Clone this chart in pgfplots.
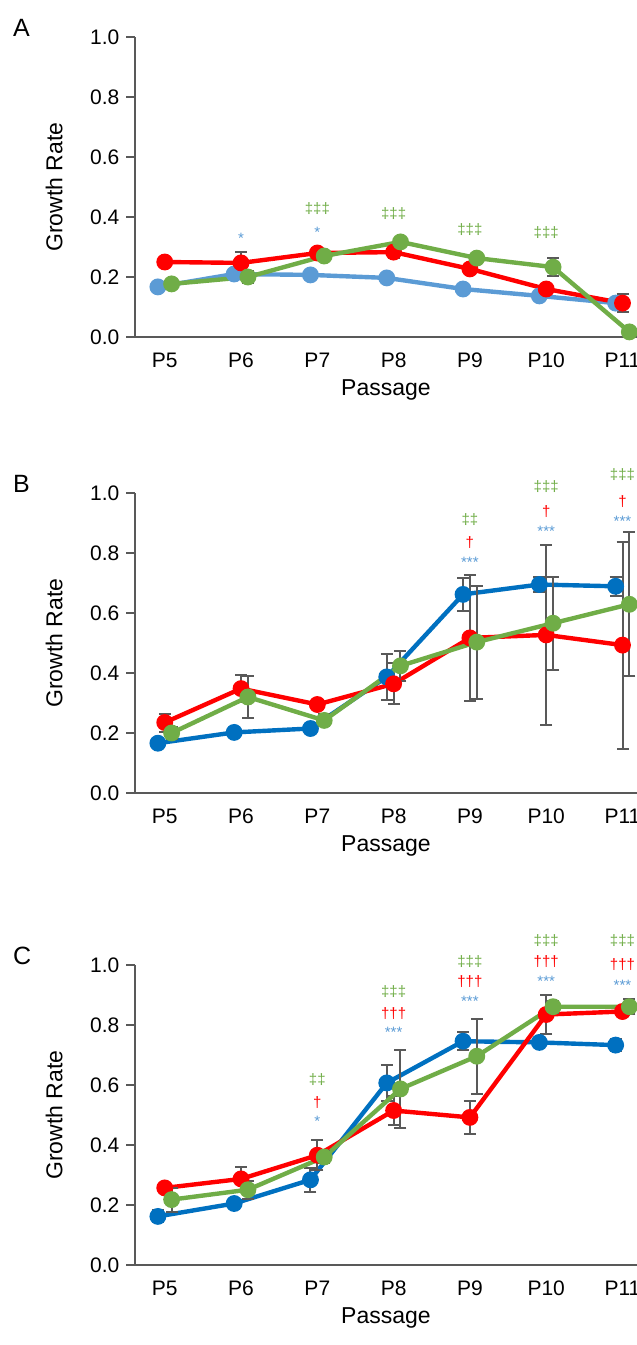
\documentclass[border=0pt]{standalone}
\usepackage{pgfplots}
\pgfplotsset{compat=1.18}
\usepackage{fontspec}
\setmainfont{Liberation Sans}
\definecolor{lb}{RGB}{91,155,213}
\definecolor{db}{RGB}{0,112,192}
\definecolor{rr}{RGB}{255,0,0}
\definecolor{gg}{RGB}{112,173,71}
\definecolor{eb}{RGB}{89,89,89}
\tikzset{ann/.style={font=\fontsize{7.5pt}{8pt}\selectfont, text=#1}}
\pgfplotsset{
 panel/.style={scale only axis, width=251pt, height=150pt, anchor=north west, clip=false,
  xmin=-0.39, xmax=6.19, ymin=0, ymax=1, ytick={0,0.2,...,1},
  yticklabel style={/pgf/number format/.cd,fixed,fixed zerofill,precision=1},
  /pgf/number format/assume math mode=true,
  xtick={0,...,6}, xticklabels={P5,P6,P7,P8,P9,P10,P11},
  axis lines*=left, axis line style={-,draw=eb,line width=0.8pt},
  tick align=outside, major x tick style={draw=none}, ytick style={draw=eb,line width=0.8pt},
  tick label style={font=\fontsize{10.5pt}{12pt}\selectfont},
  label style={font=\fontsize{11.5pt}{13pt}\selectfont},
  xlabel={Passage}, ylabel={Growth Rate},
  ylabel style={at={(axis description cs:-0.13,0.5)}},
  xlabel style={at={(axis description cs:0.5,-0.12)}},
  every axis plot/.append style={line width=2.2pt, mark=*, mark size=3.1pt,
    error bars/y dir=both, error bars/y explicit, error bars/error bar style={eb,line width=1pt}, error bars/error mark options={eb,rotate=90,mark size=3pt,line width=1pt}},
 },
}
\begin{document}
\begin{tikzpicture}
\useasboundingbox (0,0) rectangle (318.5pt,-672.5pt);
\node[anchor=north west,font=\fontsize{12.5pt}{13pt}\selectfont] at (3pt,-6pt) {A};
\node[anchor=north west,font=\fontsize{12.5pt}{13pt}\selectfont] at (3pt,-234pt) {B};
\node[anchor=north west,font=\fontsize{12.5pt}{13pt}\selectfont] at (3pt,-470pt) {C};
% Panel A
\begin{axis}[panel, at={(67.5pt,-18.5pt)}]
\addplot[color=lb, mark options={fill=lb}] coordinates {(-0.09,0.167) +- (0,0.005) (0.91,0.21) +- (0,0.005) (1.91,0.207) +- (0,0.005) (2.91,0.197) +- (0,0.01) (3.91,0.16) +- (0,0.005) (4.91,0.137) +- (0,0.005) (5.91,0.113) +- (0,0.005)};
\addplot[color=rr, mark options={fill=rr}] coordinates {(0,0.25) +- (0,0.005) (1,0.247) +- (0,0.035) (2,0.28) +- (0,0.005) (3,0.283) +- (0,0.02) (4,0.227) +- (0,0.005) (5,0.16) +- (0,0.005) (6,0.113) +- (0,0.03)};
\addplot[color=gg, mark options={fill=gg}] coordinates {(0.09,0.177) +- (0,0.005) (1.09,0.2) +- (0,0.02) (2.09,0.27) +- (0,0.005) (3.09,0.317) +- (0,0.005) (4.09,0.263) +- (0,0.005) (5.09,0.233) +- (0,0.03) (6.09,0.017) +- (0,0.005)};
\node[ann=lb] at (axis cs:1,0.33) {*};
\node[ann=lb] at (axis cs:2,0.35) {*};
\node[ann=gg] at (axis cs:2,0.427) {‡‡‡};
\node[ann=gg] at (axis cs:3,0.41) {‡‡‡};
\node[ann=gg] at (axis cs:4,0.357) {‡‡‡};
\node[ann=gg] at (axis cs:5,0.347) {‡‡‡};
\end{axis}
% Panel B
\begin{axis}[panel, at={(67.5pt,-246.5pt)}]
\addplot[color=db, mark options={fill=db}] coordinates {(-0.09,0.166) +- (0,0.005) (0.91,0.202) +- (0,0.005) (1.91,0.215) +- (0,0.005) (2.91,0.387) +- (0,0.077) (3.91,0.662) +- (0,0.056) (4.91,0.695) +- (0,0.025) (5.91,0.689) +- (0,0.032)};
\addplot[color=rr, mark options={fill=rr}] coordinates {(0,0.235) +- (0,0.03) (1,0.348) +- (0,0.045) (2,0.295) +- (0,0.005) (3,0.364) +- (0,0.068) (4,0.517) +- (0,0.21) (5,0.527) +- (0,0.3) (6,0.493) +- (0,0.345)};
\addplot[color=gg, mark options={fill=gg}] coordinates {(0.09,0.2) +- (0,0.02) (1.09,0.32) +- (0,0.07) (2.09,0.242) +- (0,0.02) (3.09,0.424) +- (0,0.05) (4.09,0.503) +- (0,0.188) (5.09,0.566) +- (0,0.155) (6.09,0.629) +- (0,0.24)};
\node[ann=lb] at (axis cs:4,0.768) {***};
\node[ann=rr] at (axis cs:4,0.834) {†};
\node[ann=gg] at (axis cs:4,0.91) {‡‡};
\node[ann=lb] at (axis cs:5,0.871) {***};
\node[ann=rr] at (axis cs:5,0.937) {†};
\node[ann=gg] at (axis cs:5,1.02) {‡‡‡};
\node[ann=lb] at (axis cs:6,0.907) {***};
\node[ann=rr] at (axis cs:6,0.973) {†};
\node[ann=gg] at (axis cs:6,1.06) {‡‡‡};
\end{axis}
% Panel C
\begin{axis}[panel, at={(67.5pt,-482.5pt)}]
\addplot[color=db, mark options={fill=db}] coordinates {(-0.09,0.162) +- (0,0.02) (0.91,0.205) +- (0,0.01) (1.91,0.284) +- (0,0.04) (2.91,0.607) +- (0,0.06) (3.91,0.746) +- (0,0.03) (4.91,0.742) +- (0,0.01) (5.91,0.733) +- (0,0.02)};
\addplot[color=rr, mark options={fill=rr}] coordinates {(0,0.257) +- (0,0.005) (1,0.287) +- (0,0.04) (2,0.366) +- (0,0.05) (3,0.515) +- (0,0.047) (4,0.492) +- (0,0.056) (5,0.835) +- (0,0.064) (6,0.845) +- (0,0.015)};
\addplot[color=gg, mark options={fill=gg}] coordinates {(0.09,0.218) +- (0,0.04) (1.09,0.251) +- (0,0.03) (2.09,0.36) +- (0,0.02) (3.09,0.587) +- (0,0.13) (4.09,0.696) +- (0,0.125) (5.09,0.861) +- (0,0.02) (6.09,0.861) +- (0,0.025)};
\node[ann=lb] at (axis cs:2,0.478) {*};
\node[ann=rr] at (axis cs:2,0.541) {†};
\node[ann=gg] at (axis cs:2,0.617) {‡‡};
\node[ann=lb] at (axis cs:3,0.776) {***};
\node[ann=rr] at (axis cs:3,0.838) {†††};
\node[ann=gg] at (axis cs:3,0.911) {‡‡‡};
\node[ann=lb] at (axis cs:4,0.878) {***};
\node[ann=rr] at (axis cs:4,0.944) {†††};
\node[ann=gg] at (axis cs:4,1.013) {‡‡‡};
\node[ann=lb] at (axis cs:5,0.947) {***};
\node[ann=rr] at (axis cs:5,1.01) {†††};
\node[ann=gg] at (axis cs:5,1.08) {‡‡‡};
\node[ann=lb] at (axis cs:6,0.931) {***};
\node[ann=rr] at (axis cs:6,1.003) {†††};
\node[ann=gg] at (axis cs:6,1.08) {‡‡‡};
\end{axis}
\end{tikzpicture}
\end{document}
